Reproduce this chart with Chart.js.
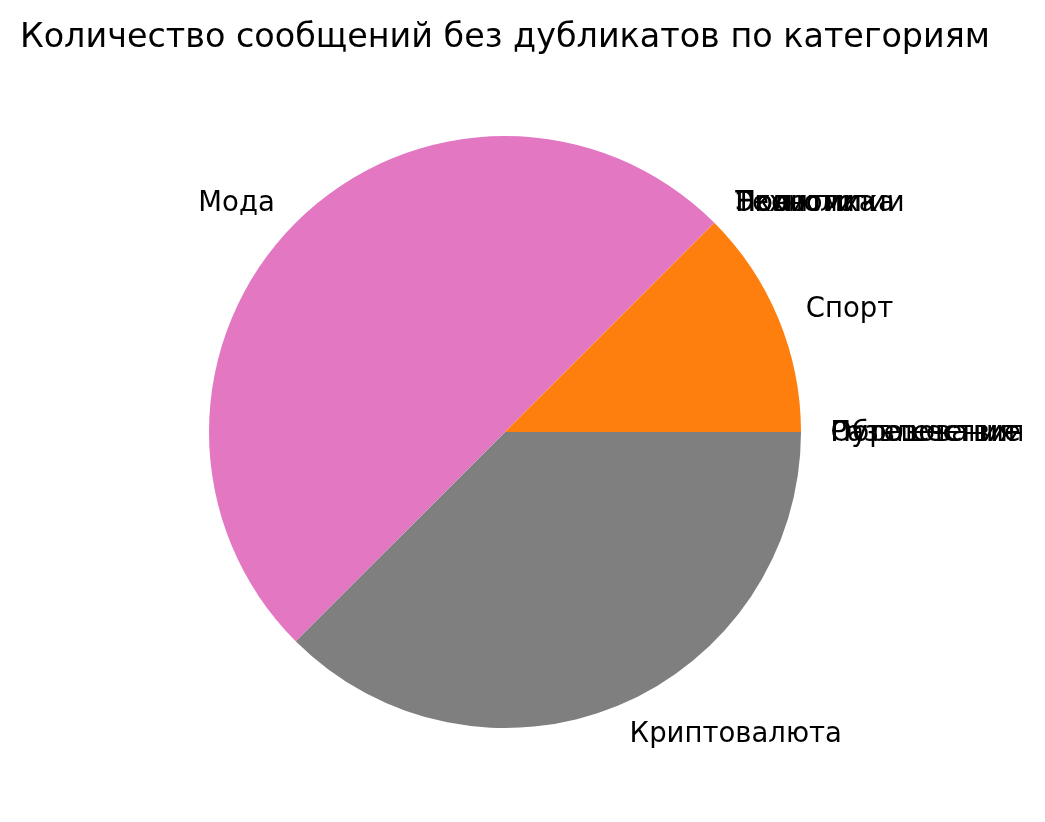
<!DOCTYPE html>
<html>
<head>
<meta charset="utf-8">
<script src="https://cdn.jsdelivr.net/npm/chart.js@4/dist/chart.umd.min.js"></script>
<style>
  body { margin: 0; background: #fff; }
  #wrap { width: 1045px; height: 822px; }
</style>
</head>
<body>
<div id="wrap"><canvas id="myChart" width="1045" height="822"></canvas></div>
<script>
// categories in the original (matplotlib) order, counter-clockwise from 3 o'clock
const categories = ["Образование", "Спорт", "Политика", "Технологии", "Экономика", "Новости",
  "Мода", "Криптовалюта", "Путешествия", "Развлечения"];
const counts = [0, 1, 0, 0, 0, 0, 4, 3, 0, 0];
const colors = ["#1f77b4", "#ff7f0e", "#2ca02c", "#d62728", "#9467bd", "#8c564b",
  "#e377c2", "#7f7f7f", "#bcbd22", "#17becf"];
const chartTitle = "Количество сообщений без дубликатов по категориям";

// Chart.js goes clockwise, so reverse to get the same layout
const labels = categories.slice().reverse();
const values = counts.slice().reverse();
const bg = colors.slice().reverse();

const outsideLabels = {
  id: "outsideLabels",
  afterDatasetsDraw(chart) {
    const ctx = chart.ctx;
    const meta = chart.getDatasetMeta(0);
    ctx.save();
    ctx.fillStyle = "#000";
    ctx.textBaseline = "middle";
    ctx.font = "27.5px 'DejaVu Sans'";
    meta.data.forEach((arc, i) => {
      const mid = (arc.startAngle + arc.endAngle) / 2;
      const r = arc.outerRadius * 1.1;
      const x = arc.x + r * Math.cos(mid);
      const y = arc.y + r * Math.sin(mid) + 2;
      ctx.textAlign = Math.cos(mid) > 0 ? "left" : "right";
      ctx.fillText(labels[i], x, y);
    });
    // title, centred over the pie
    ctx.font = "33.4px 'DejaVu Sans'";
    ctx.textAlign = "center";
    ctx.textBaseline = "alphabetic";
    ctx.fillText(chartTitle, meta.data[0].x, 47);
    ctx.restore();
  }
};

new Chart(document.getElementById("myChart"), {
  type: "pie",
  data: {
    labels: labels,
    datasets: [{
      data: values,
      backgroundColor: bg,
      borderWidth: 0,
    }],
  },
  options: {
    responsive: false,
    animation: false,
    rotation: 90,
    layout: {
      padding: { left: 209, right: 244, top: 136, bottom: 94 },
    },
    plugins: {
      legend: { display: false },
      tooltip: { enabled: false },
      title: { display: false },
    },
  },
  plugins: [outsideLabels],
});
</script>
</body>
</html>
